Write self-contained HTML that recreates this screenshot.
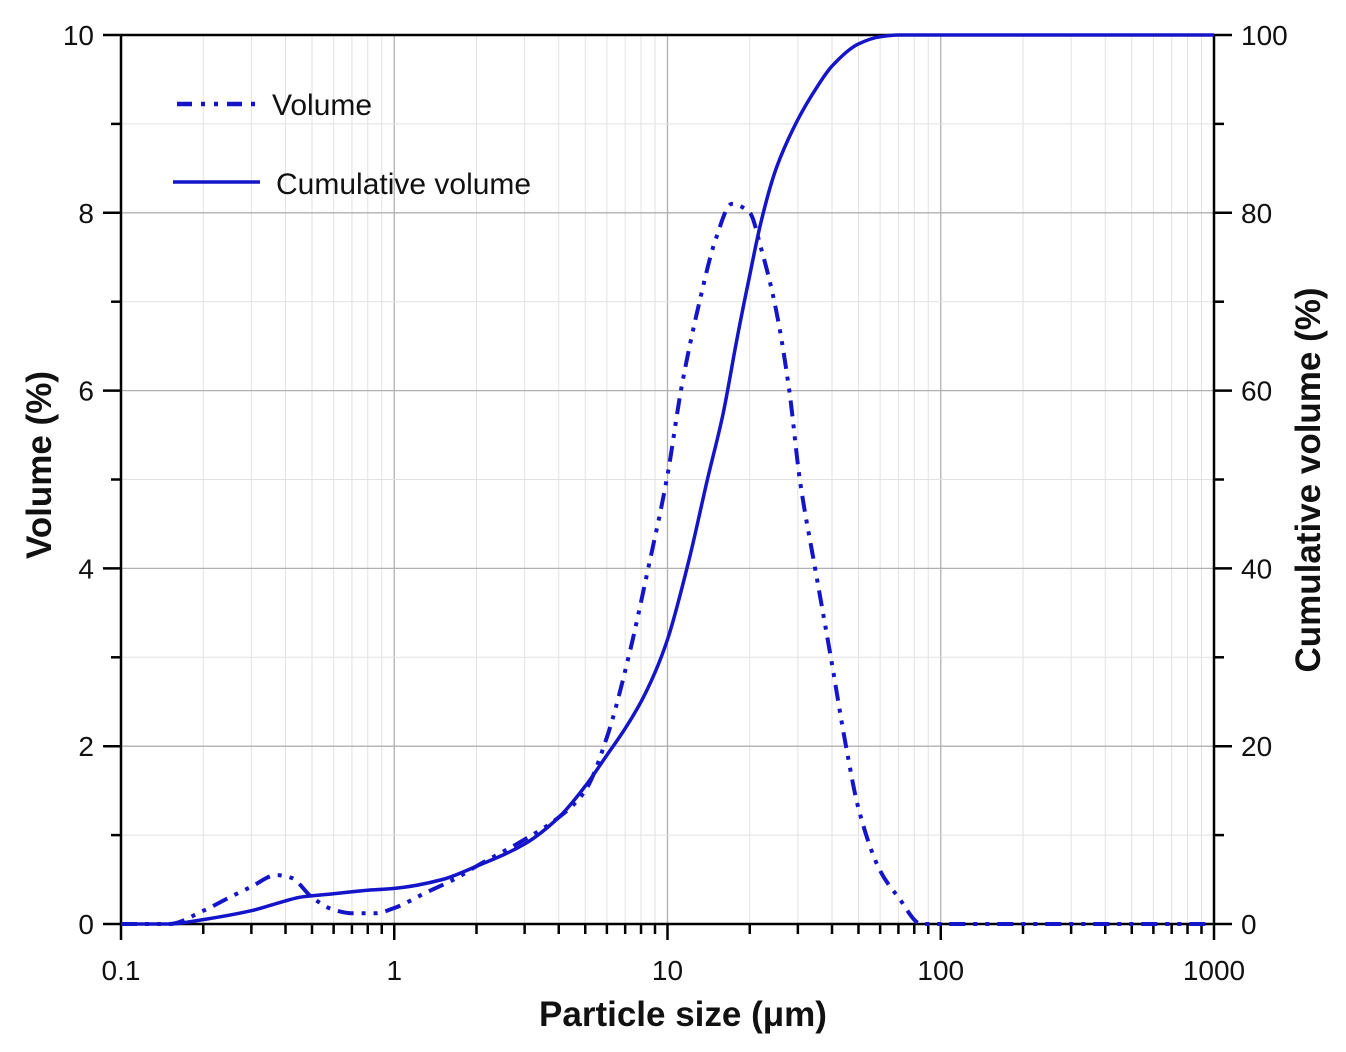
<!DOCTYPE html>
<html><head><meta charset="utf-8"><style>
html,body{margin:0;padding:0;background:#fff;}
svg{display:block;font-family:"Liberation Sans",Arial,sans-serif;}
</style></head><body>
<svg id="chart" width="1346" height="1052" viewBox="0 0 1346 1052"></svg>
<script>
const xTicks = [0.1, 1, 10, 100, 1000];
const xTickLabels = ["0.1", "1", "10", "100", "1000"];
const yLeftTicks = [0, 2, 4, 6, 8, 10];
const yRightTickLabels = ["0", "20", "40", "60", "80", "100"];
const volSizes = [0.1,0.15,0.2,0.25,0.3,0.37,0.42,0.5,0.6,0.7,0.85,1,1.3,1.7,2,3,4,5,6,7.2,8.5,10,11.2,13.1,15,17.2,20,22,25,27.9,30.5,34.7,39.6,45,50,60,70,85,100,1000];
const volValues = [0,0,0.15,0.3,0.42,0.55,0.52,0.3,0.16,0.12,0.12,0.18,0.35,0.52,0.65,0.95,1.2,1.5,2.1,3.0,4.0,5.05,6.0,7.0,7.7,8.1,8.0,7.6,6.9,6.0,5.0,4.0,3.0,2.0,1.3,0.6,0.3,0,0,0];
const cumSizes = [0.1,0.15,0.2,0.3,0.4,0.45,0.6,0.8,1,1.5,2,3,4,5,6,7,8,9,10,12,14,16,18,20,22,25,30,35,40,50,60,70,1000];
const cumValues = [0,0,0.5,1.5,2.6,3.0,3.4,3.8,4.0,5.0,6.5,9.0,12,15.5,19,22,25,28.3,32,41,50,57.5,66,73,79,85,90.5,94,96.5,99,99.8,100,100];

const NS = "http://www.w3.org/2000/svg";
const svg = document.getElementById("chart");
const X0 = 121, X1 = 1214, Y0 = 924, Y1 = 35;
function xs(v){ return X0 + (Math.log10(v) + 1) / 4 * (X1 - X0); }
function yl(v){ return Y0 - v / 10 * (Y0 - Y1); }
function yr(v){ return Y0 - v / 100 * (Y0 - Y1); }
function mk(tag, attrs, parent){
  const e = document.createElementNS(NS, tag);
  for (const k in attrs) e.setAttribute(k, attrs[k]);
  (parent || svg).appendChild(e);
  return e;
}
const grid = mk("g", {});


for (let d = -1; d < 3; d++) {
  for (let m = 1; m <= 9; m++) {
    const x = xs(m * Math.pow(10, d));
    mk("line", {x1:x, x2:x, y1:Y1, y2:Y0, stroke: m === 1 ? "#b0b0b0" : "#e2e2e2", "stroke-width": m === 1 ? 1.3 : 1}, grid);
  }
}
for (let v = 1; v < 10; v++) {
  mk("line", {x1:X0, x2:X1, y1:yl(v), y2:yl(v), stroke: v % 2 === 0 ? "#b0b0b0" : "#e2e2e2", "stroke-width": v % 2 === 0 ? 1.3 : 1}, grid);
}
const axes = mk("g", {stroke:"#000", "stroke-width":2.5, fill:"none"});


mk("line", {x1:X0, x2:X0, y1:Y1-1, y2:Y0+1}, axes);
mk("line", {x1:X1, x2:X1, y1:Y1-1, y2:Y0+1}, axes);
mk("line", {x1:X0, x2:X1, y1:Y1, y2:Y1}, axes);
mk("line", {x1:X0, x2:X1, y1:Y0, y2:Y0}, axes);
for (let d = -1; d < 3; d++) {
  for (let m = 1; m <= 9; m++) {
    const x = xs(m * Math.pow(10, d));
    mk("line", {x1:x, x2:x, y1:Y0, y2:Y0 + (m === 1 ? 16 : 10)}, axes);
  }
}
mk("line", {x1:X1, x2:X1, y1:Y0, y2:Y0 + 16}, axes);
xTicks.forEach((v, i) => {
  const t = mk("text", {x: xs(v), y: 980, "font-size": 28, "text-anchor": "middle", fill: "#111"});
  
  
  t.textContent = xTickLabels[i];
});
for (let v = 0; v <= 10; v++) {
  const y = yl(v);
  const len = v % 2 === 0 ? 18 : 10;
  mk("line", {x1:X0 - len, x2:X0, y1:y, y2:y}, axes);
  mk("line", {x1:X1, x2:X1 + len, y1:y, y2:y}, axes);
}
yLeftTicks.forEach((v, i) => {
  const t = mk("text", {x: 94, y: yl(v) + 10, "font-size": 28, "text-anchor": "end", fill: "#111"});
  
  
  t.textContent = String(v);
  const r = mk("text", {x: 1241, y: yr(v * 10) + 10, "font-size": 28, "text-anchor": "start", fill: "#111"});
  
  
  r.textContent = yRightTickLabels[i];
});
let t = mk("text", {x: 683, y: 1026, "font-size": 35, "font-weight": "bold", "text-anchor": "middle", fill: "#111"});


t.textContent = "Particle size (μm)";
t = mk("text", {x: 0, y: 0, "font-size": 35, "font-weight": "bold", "text-anchor": "middle", fill: "#111", transform: "translate(51,465) rotate(-90)"});


t.textContent = "Volume (%)";
t = mk("text", {x: 0, y: 0, "font-size": 35, "font-weight": "bold", "text-anchor": "middle", fill: "#111", transform: "translate(1320,480) rotate(-90)"});


t.textContent = "Cumulative volume (%)";
// monotone cubic (Fritsch-Carlson) in pixel space
function smoothPath(xsArr, ysArr, yf){
  const X = xsArr.map(xs), Y = ysArr.map(yf), n = X.length;
  const dx = [], sl = [];
  for (let i = 0; i < n - 1; i++) { dx.push(X[i+1] - X[i]); sl.push((Y[i+1] - Y[i]) / dx[i]); }
  const m = new Array(n);
  m[0] = sl[0]; m[n-1] = sl[n-2];
  for (let i = 1; i < n - 1; i++) {
    if (sl[i-1] * sl[i] <= 0) m[i] = 0;
    else {
      const w1 = 2*dx[i] + dx[i-1], w2 = dx[i] + 2*dx[i-1];
      m[i] = (w1 + w2) / (w1 / sl[i-1] + w2 / sl[i]);
    }
  }
  let d = "M" + X[0].toFixed(1) + "," + Y[0].toFixed(1);
  for (let i = 0; i < n - 1; i++) {
    const h = dx[i] / 3;
    d += " C" + (X[i]+h).toFixed(1) + "," + (Y[i]+m[i]*h).toFixed(1) + " " + (X[i+1]-h).toFixed(1) + "," + (Y[i+1]-m[i+1]*h).toFixed(1) + " " + X[i+1].toFixed(1) + "," + Y[i+1].toFixed(1);
  }
  return d;
}
const cum = mk("path", {d: smoothPath(cumSizes, cumValues, yr), fill: "none", stroke: "#1414c8", "stroke-width": 3.5, "stroke-linejoin": "round"});


const vol = mk("path", {d: smoothPath(volSizes, volValues, yl), fill: "none", stroke: "#1414c8", "stroke-width": 4, "stroke-dasharray": "16,8,4,8,4,8", "stroke-linejoin": "round"});


const lg = mk("g", {});


mk("line", {x1:177, x2:256, y1:104, y2:104, stroke:"#1414c8", "stroke-width":4.5, "stroke-dasharray":"15,9,4,9,4,9"}, lg);
mk("line", {x1:173, x2:260, y1:182, y2:182, stroke:"#1414c8", "stroke-width":3.5}, lg);
t = mk("text", {x: 272, y: 115, "font-size": 30, fill: "#111"}, lg);


t.textContent = "Volume";
t = mk("text", {x: 276, y: 194, "font-size": 30, fill: "#111"}, lg);


t.textContent = "Cumulative volume";
</script>
</body></html>
